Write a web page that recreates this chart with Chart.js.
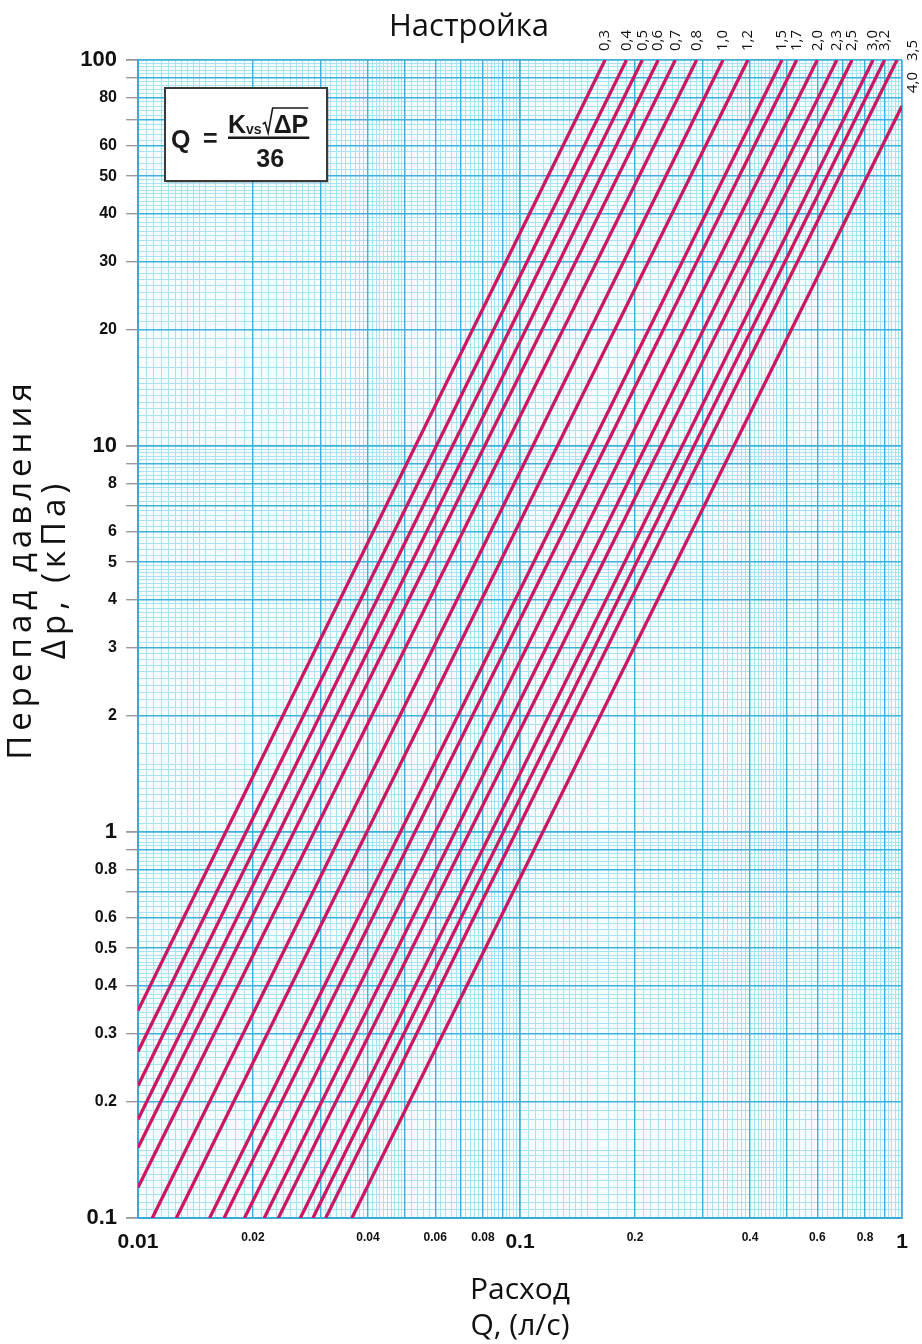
<!DOCTYPE html>
<html>
<head>
<meta charset="utf-8">
<script src="https://cdn.jsdelivr.net/npm/chart.js@4.4.1/dist/chart.umd.min.js"></script>
<style>
  html, body { margin: 0; padding: 0; background: #ffffff; }
  #wrap { width: 922px; height: 1344px; }
</style>
</head>
<body>
<div id="wrap"><canvas id="c" width="922" height="1344"></canvas></div>
<script>
// ---------- DATA ----------
const settings = ['0,3','0,4','0,5','0,6','0,7','0,8','1,0','1,2','1,5','1,7','2,0','2,3','2,5','3,0','3,2','3,5','4,0'];
// start point of every line (left edge Q = 0.01 or bottom edge Δp = 0.1)
const qStart  = [0.01, 0.01, 0.01, 0.01, 0.01, 0.01, 0.0109, 0.0126, 0.0154, 0.0168, 0.0190, 0.0214, 0.0233, 0.0266, 0.0287, 0.0310, 0.0363];
const dpStart = [0.345, 0.27, 0.22, 0.18, 0.152, 0.12, 0.1, 0.1, 0.1, 0.1, 0.1, 0.1, 0.1, 0.1, 0.1, 0.1, 0.1];
// end point of every line (top edge Δp = 100 or right edge Q = 1)
const qEnd    = [0.167, 0.19, 0.209, 0.23, 0.255, 0.29, 0.34, 0.395, 0.485, 0.53, 0.60, 0.675, 0.74, 0.84, 0.90, 0.97, 1.0];
const dpEnd   = [100, 100, 100, 100, 100, 100, 100, 100, 100, 100, 100, 100, 100, 100, 100, 100, 76];

// axis tick labels
const xLabelValues = [0.01, 0.02, 0.04, 0.06, 0.08, 0.1, 0.2, 0.4, 0.6, 0.8, 1];
const xLabelTexts  = ['0.01','0.02','0.04','0.06','0.08','0.1','0.2','0.4','0.6','0.8','1'];
const yLabelValues = [0.1, 0.2, 0.3, 0.4, 0.5, 0.6, 0.8, 1, 2, 3, 4, 5, 6, 8, 10, 20, 30, 40, 50, 60, 80, 100];
const yLabelTexts  = ['0.1','0.2','0.3','0.4','0.5','0.6','0.8','1','2','3','4','5','6','8','10','20','30','40','50','60','80','100'];
const bigLabels    = ['0.01','0.1','1','10','100'];

const xTitle = ['Расход', 'Q, (л/с)'];
const yTitle = ['Перепад давления', 'Δp, (кПа)'];
const topTitle = 'Настройка';

// ---------- grid positions ----------
function decadeMultiples(lo, hi) {          // 1..9 × each decade
  const out = [];
  for (let d = lo; d < hi * 0.999; d *= 10) {
    for (let m = 1; m <= 9; m++) out.push(+(m * d).toPrecision(6));
  }
  out.push(hi);
  return out;
}
function fineGrid(lo, hi) {                 // fine sub-divisions of graph paper
  const out = [];
  const steps = [[1, 1.5, 0.05], [1.5, 2, 0.1], [2, 5, 0.1], [5, 10, 0.2]];
  for (let d = lo; d < hi * 0.999; d *= 10) {
    for (const [a, b, s] of steps) {
      for (let m = a; m < b - 1e-9; m += s) {
        if (Math.abs(m - Math.round(m)) > 1e-6) out.push(+(m * d).toPrecision(6));
      }
    }
  }
  return out;
}
const xMainGrid = decadeMultiples(0.01, 1);
const yMainGrid = decadeMultiples(0.1, 100);
const xFineGrid = fineGrid(0.01, 1);
const yFineGrid = fineGrid(0.1, 100);

function findLabel(values, texts, v) {
  for (let i = 0; i < values.length; i++) if (Math.abs(values[i] - v) / values[i] < 1e-6) return texts[i];
  return '';
}
function isDecade(v) { const l = Math.log10(v); return Math.abs(l - Math.round(l)) < 1e-6; }

const LINE = '#cc1763';
const datasets = settings.map((s, i) => ({
  label: s,
  data: [{ x: qStart[i], y: dpStart[i] }, { x: qEnd[i], y: dpEnd[i] }],
  showLine: true,
  borderColor: LINE,
  borderWidth: 3.3,
  pointRadius: 0,
  pointHoverRadius: 0,
  fill: false,
  tension: 0
}));

// ---------- plugins ----------
const bgPlugin = {
  id: 'plotBg',
  beforeDraw(chart) {
    const { ctx, chartArea: a } = chart;
    ctx.save();
    ctx.fillStyle = '#f6fdff';
    ctx.fillRect(a.left, a.top, a.right - a.left, a.bottom - a.top);
    ctx.restore();
  }
};

const decorPlugin = {
  id: 'decor',
  afterDraw(chart) {
    const { ctx, chartArea: a, scales } = chart;
    const xs = scales.x;
    ctx.save();
    // setting labels (rotated)
    ctx.fillStyle = '#111';
    ctx.font = '15px "Open Sans", "DejaVu Sans", sans-serif';
    ctx.textBaseline = 'middle';
    ctx.textAlign = 'left';
    let rightSlot = 0;
    for (let i = 0; i < settings.length; i++) {
      const px = xs.getPixelForValue(qEnd[i]);
      let x, y;
      if (px > a.right - 10) {
        x = a.right + 11;
        y = a.top + 1 + rightSlot * 32;
        rightSlot++;
      } else {
        x = px;
        y = a.top - 9;
      }
      ctx.save();
      ctx.translate(x, y);
      ctx.rotate(-Math.PI / 2);
      ctx.fillText(settings[i], 0, 0);
      ctx.restore();
    }

    // y axis title (rotated, two lines)
    ctx.font = '33px "Open Sans", "DejaVu Sans", sans-serif';
    try { ctx.letterSpacing = '5px'; } catch (e) {}
    ctx.textAlign = 'center';
    ctx.textBaseline = 'middle';
    ctx.fillStyle = '#111';
    const yc = 569;
    [22, 56].forEach((x, k) => {
      ctx.save();
      ctx.translate(x, yc);
      ctx.rotate(-Math.PI / 2);
      ctx.fillText(yTitle[k], 0, 0);
      ctx.restore();
    });
    try { ctx.letterSpacing = '0px'; } catch (e) {}

    // formula box
    const bx = 165, by = 88, bw = 162, bh = 93;
    ctx.fillStyle = 'rgba(0,0,0,0.18)';
    ctx.fillRect(bx + 2, by + 2, bw, bh);
    ctx.fillStyle = '#ffffff';
    ctx.fillRect(bx, by, bw, bh);
    ctx.strokeStyle = '#3a3a3a';
    ctx.lineWidth = 2;
    ctx.strokeRect(bx, by, bw, bh);
    ctx.fillStyle = '#1a1a1a';
    ctx.strokeStyle = '#1a1a1a';
    ctx.textAlign = 'left';
    ctx.textBaseline = 'alphabetic';
    const big = 'bold 25px "Liberation Sans", Arial, sans-serif';
    const small = 'bold 14px "Liberation Sans", Arial, sans-serif';
    ctx.font = big;
    ctx.fillText('Q', 171, 148);
    ctx.fillText('=', 203, 147);
    // numerator K vs √ΔP
    let cx = 228;
    const nb = 133;
    ctx.fillText('K', cx, nb);
    cx += ctx.measureText('K').width;
    ctx.font = small;
    ctx.fillText('vs', cx, nb + 1);
    cx += ctx.measureText('vs').width + 1;
    ctx.lineWidth = 1.6;
    ctx.beginPath();
    ctx.moveTo(cx, nb - 9);
    ctx.lineTo(cx + 2.5, nb - 10.5);
    ctx.lineTo(cx + 5.5, nb);
    ctx.lineTo(cx + 10, nb - 25);
    ctx.font = big;
    const dpw = ctx.measureText('ΔP').width;
    ctx.lineTo(cx + 11 + dpw, nb - 25);
    ctx.stroke();
    ctx.fillText('ΔP', cx + 11, nb);
    const numEnd = cx + 11 + dpw;
    ctx.fillRect(228, 136.5, numEnd - 228 + 1, 2.5);
    ctx.textAlign = 'center';
    ctx.fillText('36', (228 + numEnd) / 2 + 2, 167);
    ctx.restore();
  }
};

// ---------- chart ----------
const tickFont = (txt, bigSize, smallSize) => {
  const b = bigLabels.includes(txt);
  return { family: '"Liberation Sans", Arial, sans-serif', weight: 'bold', size: b ? bigSize : smallSize };
};

new Chart(document.getElementById('c'), {
  type: 'scatter',
  data: { datasets },
  plugins: [bgPlugin, decorPlugin],
  options: {
    responsive: false,
    devicePixelRatio: 1,
    animation: false,
    events: [],
    layout: { padding: { left: 36, right: 20, top: 0, bottom: 0 } },
    plugins: {
      legend: { display: false },
      tooltip: { enabled: false },
      title: {
        display: true,
        text: topTitle,
        color: '#111',
        font: { family: '"Open Sans", "DejaVu Sans", sans-serif', size: 31, weight: 'normal', lineHeight: 1.2 },
        padding: { top: 9, bottom: 13.8 }
      }
    },
    scales: {
      xf: {
        type: 'logarithmic', position: 'bottom', min: 0.01, max: 1,
        afterBuildTicks: s => { s.ticks = xFineGrid.map(v => ({ value: v })); },
        afterFit: s => { s.height = 0; },
        ticks: { display: false, autoSkip: false },
        grid: { color: '#a8e2f3', lineWidth: 1, drawTicks: false, z: -3 },
        border: { display: false }
      },
      yf: {
        type: 'logarithmic', position: 'left', min: 0.1, max: 100,
        afterBuildTicks: s => { s.ticks = yFineGrid.map(v => ({ value: v })); },
        afterFit: s => { s.width = 0; },
        ticks: { display: false, autoSkip: false },
        grid: { color: '#a8e2f3', lineWidth: 1, drawTicks: false, z: -3 },
        border: { display: false }
      },
      x: {
        type: 'logarithmic', position: 'bottom', min: 0.01, max: 1,
        afterBuildTicks: s => { s.ticks = xMainGrid.map(v => ({ value: v })); },
        afterFit: s => { s.height = 126; },
        ticks: {
          autoSkip: false, maxRotation: 0, minRotation: 0, padding: 12, color: '#111',
          callback: v => findLabel(xLabelValues, xLabelTexts, v),
          font: ctx => tickFont(findLabel(xLabelValues, xLabelTexts, ctx.tick.value), 21, 12)
        },
        grid: {
          color: '#3fafdc',
          lineWidth: ctx => (ctx.tick && isDecade(ctx.tick.value)) ? 1.8 : 1.4,
          drawTicks: false, z: -1
        },
        border: { color: '#3aa9d9', width: 2 },
        title: {
          display: true, text: xTitle, color: '#111',
          font: { family: '"Open Sans", "DejaVu Sans", sans-serif', size: 30, lineHeight: 1.2 },
          padding: { top: 0, bottom: 0 }
        }
      },
      y: {
        type: 'logarithmic', position: 'left', min: 0.1, max: 100,
        afterBuildTicks: s => { s.ticks = yMainGrid.map(v => ({ value: v })); },
        afterFit: s => { s.width = 102; },
        ticks: {
          autoSkip: false, padding: 9, color: '#111',
          callback: v => findLabel(yLabelValues, yLabelTexts, v),
          font: ctx => tickFont(findLabel(yLabelValues, yLabelTexts, ctx.tick.value), 22, 16)
        },
        grid: {
          color: '#3fafdc',
          tickColor: '#9a9a9a',
          tickLength: 12,
          lineWidth: ctx => (ctx.tick && isDecade(ctx.tick.value)) ? 1.8 : 1.4,
          z: -1
        },
        border: { color: '#3aa9d9', width: 2 }
      }
    }
  }
});
</script>
</body>
</html>
